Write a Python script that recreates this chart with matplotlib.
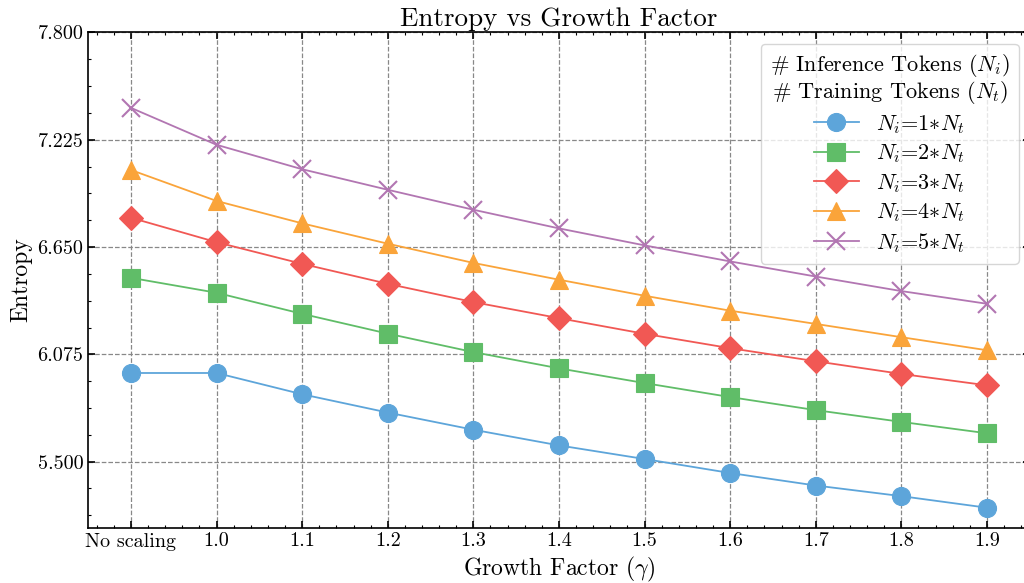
from matplotlib import pyplot
from matplotlib.ticker import AutoMinorLocator, FormatStrFormatter
import numpy

# Data
growthLabels = ["No scaling", "1.0", "1.1", "1.2", "1.3", "1.4", "1.5", "1.6", "1.7", "1.8", "1.9"]

entropy1x = [5.975, 5.975, 5.861, 5.763, 5.671, 5.587, 5.514, 5.439, 5.372, 5.315, 5.253]
entropy2x = [6.485, 6.405, 6.292, 6.186, 6.087, 6.000, 5.921, 5.846, 5.776, 5.713, 5.652]
entropy3x = [6.807, 6.676, 6.560, 6.453, 6.355, 6.269, 6.185, 6.108, 6.038, 5.970, 5.909]
entropy4x = [7.063, 6.897, 6.777, 6.668, 6.565, 6.475, 6.389, 6.309, 6.238, 6.167, 6.097]
entropy5x = [7.396, 7.198, 7.067, 6.957, 6.850, 6.750, 6.659, 6.573, 6.492, 6.414, 6.346]

seriesLabels = [r"$N_i$=1$*N_t$", r"$N_i$=2$*N_t$", r"$N_i$=3$*N_t$", r"$N_i$=4$*N_t$", r"$N_i$=5$*N_t$"]

colors = ["#5DA5DA", "#60BD68", "#F15854", "#FAA43A", "#B276B2"]
markers = ["o", "s", "D", "^", "x"]

# Style
pyplot.rcParams["font.family"] = "serif"
pyplot.rcParams["font.serif"] = ["cmr10", "DejaVu Serif"]
pyplot.rcParams["mathtext.fontset"] = "cm"
pyplot.rcParams["axes.formatter.use_mathtext"] = True
pyplot.rcParams["axes.linewidth"] = 1.2
pyplot.rcParams["xtick.direction"] = "in"
pyplot.rcParams["ytick.direction"] = "in"
pyplot.rcParams["xtick.top"] = True
pyplot.rcParams["ytick.right"] = True
pyplot.rcParams["xtick.major.size"] = 5
pyplot.rcParams["ytick.major.size"] = 5
pyplot.rcParams["xtick.minor.size"] = 2.5
pyplot.rcParams["ytick.minor.size"] = 2.5
pyplot.rcParams["xtick.major.width"] = 1.2
pyplot.rcParams["ytick.major.width"] = 1.2
pyplot.rcParams["xtick.minor.width"] = 0.8
pyplot.rcParams["ytick.minor.width"] = 0.8

figure = pyplot.figure(figsize=(10.24, 5.83), dpi=100)
axis = figure.add_axes([0.0861, 0.0949, 0.9195, 0.8494])

x = numpy.arange(len(growthLabels))
allSeries = [entropy1x, entropy2x, entropy3x, entropy4x, entropy5x]

for i, series in enumerate(allSeries):
    msize = 13 if markers[i] != "D" else 12
    axis.plot(x, series, color=colors[i], marker=markers[i], markersize=msize,
              markeredgewidth=1.5 if markers[i] == "x" else 0.8,
              markeredgecolor=colors[i], linewidth=1.3, label=seriesLabels[i])

axis.set_xlim(-0.5, 10.5)
axis.set_ylim(5.146, 7.8)
axis.set_xticks(x, growthLabels)
axis.set_yticks(numpy.linspace(5.5, 7.8, 5))
axis.yaxis.set_major_formatter(FormatStrFormatter("%.3f"))
axis.xaxis.set_minor_locator(AutoMinorLocator(5))
axis.yaxis.set_minor_locator(AutoMinorLocator(4))
axis.tick_params(labelsize=14.5)

axis.grid(True, which="major", linestyle="--", color="#888888", linewidth=0.9)

axis.set_title("Entropy vs Growth Factor", fontsize=19.5, pad=5)
axis.set_xlabel(r"Growth Factor ($\gamma$)", fontsize=17, labelpad=3)
axis.set_ylabel("Entropy", fontsize=17)

legend = axis.legend(title="# Inference Tokens ($N_i$)\n# Training Tokens ($N_t$)",
                     loc="upper right", fontsize=16, title_fontsize=16,
                     labelspacing=0.3)
legend.get_title().set_multialignment("center")
legend.get_title().set_linespacing(1.0)

pyplot.savefig("out.png", dpi=100)
